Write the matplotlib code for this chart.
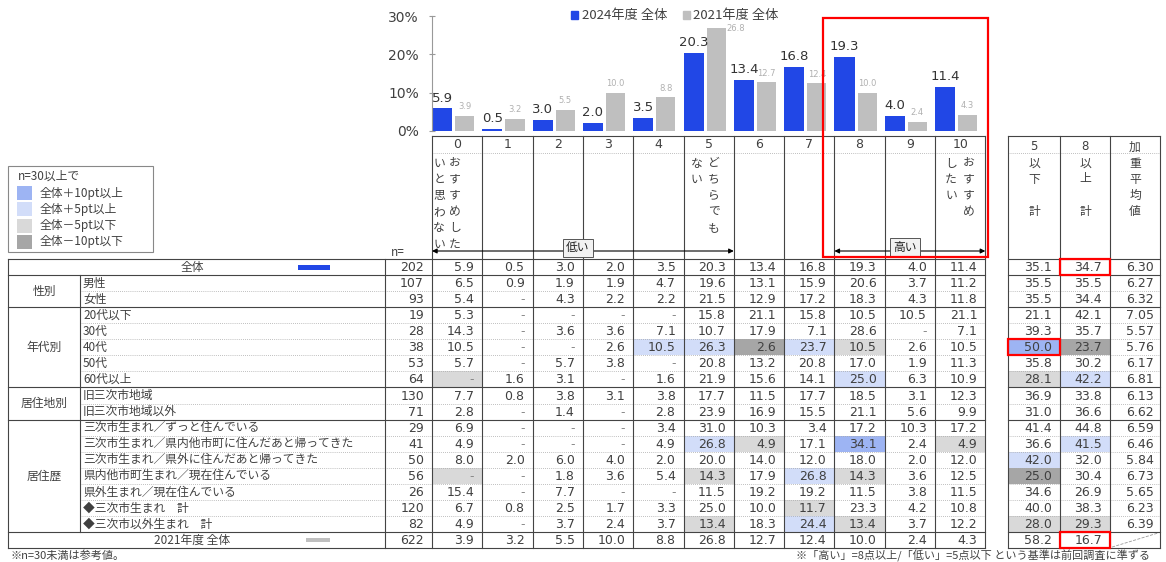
import matplotlib.pyplot as plt
import numpy as np
from matplotlib.patches import Rectangle, Patch

plt.rcParams['font.family'] = ['Noto Sans CJK JP', 'DejaVu Sans']

# 推奨度（0〜10点）
scores = ['0', '1', '2', '3', '4', '5', '6', '7', '8', '9', '10']
total_2024 = [5.9, 0.5, 3.0, 2.0, 3.5, 20.3, 13.4, 16.8, 19.3, 4.0, 11.4]
total_2021 = [3.9, 3.2, 5.5, 10.0, 8.8, 26.8, 12.7, 12.4, 10.0, 2.4, 4.3]

row_groups = ['', '性別', '性別', '年代別', '年代別', '年代別', '年代別', '年代別',
              '居住地別', '居住地別', '居住歴', '居住歴', '居住歴', '居住歴', '居住歴',
              '居住歴', '居住歴', '']
row_labels = ['全体', '男性', '女性', '20代以下', '30代', '40代', '50代', '60代以上',
              '旧三次市地域', '旧三次市地域以外',
              '三次市生まれ／ずっと住んでいる',
              '三次市生まれ／県内他市町に住んだあと帰ってきた',
              '三次市生まれ／県外に住んだあと帰ってきた',
              '県内他市町生まれ／現在住んでいる',
              '県外生まれ／現在住んでいる',
              '◆三次市生まれ　計', '◆三次市以外生まれ　計', '2021年度 全体']
row_n = [202, 107, 93, 19, 28, 38, 53, 64, 130, 71, 29, 41, 50, 56, 26, 120, 82, 622]
# 0 は「-」で表示
row_scores = [
    total_2024,
    [6.5, 0.9, 1.9, 1.9, 4.7, 19.6, 13.1, 15.9, 20.6, 3.7, 11.2],
    [5.4, 0, 4.3, 2.2, 2.2, 21.5, 12.9, 17.2, 18.3, 4.3, 11.8],
    [5.3, 0, 0, 0, 0, 15.8, 21.1, 15.8, 10.5, 10.5, 21.1],
    [14.3, 0, 3.6, 3.6, 7.1, 10.7, 17.9, 7.1, 28.6, 0, 7.1],
    [10.5, 0, 0, 2.6, 10.5, 26.3, 2.6, 23.7, 10.5, 2.6, 10.5],
    [5.7, 0, 5.7, 3.8, 0, 20.8, 13.2, 20.8, 17.0, 1.9, 11.3],
    [0, 1.6, 3.1, 0, 1.6, 21.9, 15.6, 14.1, 25.0, 6.3, 10.9],
    [7.7, 0.8, 3.8, 3.1, 3.8, 17.7, 11.5, 17.7, 18.5, 3.1, 12.3],
    [2.8, 0, 1.4, 0, 2.8, 23.9, 16.9, 15.5, 21.1, 5.6, 9.9],
    [6.9, 0, 0, 0, 3.4, 31.0, 10.3, 3.4, 17.2, 10.3, 17.2],
    [4.9, 0, 0, 0, 4.9, 26.8, 4.9, 17.1, 34.1, 2.4, 4.9],
    [8.0, 2.0, 6.0, 4.0, 2.0, 20.0, 14.0, 12.0, 18.0, 2.0, 12.0],
    [0, 0, 1.8, 3.6, 5.4, 14.3, 17.9, 26.8, 14.3, 3.6, 12.5],
    [15.4, 0, 7.7, 0, 0, 11.5, 19.2, 19.2, 11.5, 3.8, 11.5],
    [6.7, 0.8, 2.5, 1.7, 3.3, 25.0, 10.0, 11.7, 23.3, 4.2, 10.8],
    [4.9, 0, 3.7, 2.4, 3.7, 13.4, 18.3, 24.4, 13.4, 3.7, 12.2],
    total_2021,
]
low_sum = [35.1, 35.5, 35.5, 21.1, 39.3, 50.0, 35.8, 28.1, 36.9, 31.0,
           41.4, 36.6, 42.0, 25.0, 34.6, 40.0, 28.0, 58.2]
high_sum = [34.7, 35.5, 34.4, 42.1, 35.7, 23.7, 30.2, 42.2, 33.8, 36.6,
            44.8, 41.5, 32.0, 30.4, 26.9, 38.3, 29.3, 16.7]
weighted_mean = [6.30, 6.27, 6.32, 7.05, 5.57, 5.76, 6.17, 6.81, 6.13, 6.62,
                 6.59, 6.46, 5.84, 6.73, 5.65, 6.23, 6.39, None]

BLUE = '#2147E6'
GRAY = '#BFBFBF'
TXT = '#404040'
UP2, UP1, DN1, DN2 = '#9DB4F3', '#D2DDF9', '#D9D9D9', '#A6A6A6'
NUM = 'DejaVu Sans'

W, H = 1166, 562
COL0, COLW = 432, 50.3
ROW0, ROWH = 259, 16.06
RX = [1008, 1060, 1110, 1160]


def col_x(k):
    return COL0 + k * COLW


def row_y(i):
    return ROW0 + i * ROWH


def shade(value, base):
    d = round(value - base, 1)
    if d > 10:
        return UP2
    if d >= 5:
        return UP1
    if d < -10:
        return DN2
    if d <= -5:
        return DN1
    return None


fig = plt.figure(figsize=(W / 100, H / 100), dpi=100)

# 棒グラフ
ax = fig.add_axes([COL0 / W, 1 - 131 / H, 11 * COLW / W, 115 / H])
x = np.arange(len(scores))
ax.bar(x - 0.30, total_2024, width=0.40, color=BLUE)
ax.bar(x + 0.15, total_2021, width=0.38, color=GRAY)
for xi, v in zip(x, total_2024):
    ax.text(xi - 0.30, v + 1.0, f'{v:.1f}', ha='center', va='bottom',
            fontsize=9.5, color='#333333', family=NUM)
for xi, v in zip(x, total_2021):
    if v > 25:
        ax.text(xi + 0.36, v, f'{v:.1f}', ha='left', va='center',
                fontsize=6, color='#B0B0B0', family=NUM)
    else:
        ax.text(xi + 0.15, v + 1.2, f'{v:.1f}', ha='center', va='bottom',
                fontsize=6, color='#B0B0B0', family=NUM)
ax.set_xlim(-0.5, 10.5)
ax.set_ylim(0, 30)
ax.set_xticks([])
ax.set_yticks([0, 10, 20, 30], ['0%', '10%', '20%', '30%'], family=NUM)
ax.tick_params(axis='y', direction='inout', length=5, color='#999999',
               labelsize=10, labelcolor=TXT, pad=7)
for side in ['top', 'right', 'bottom']:
    ax.spines[side].set_visible(False)
ax.spines['left'].set_color('#999999')
ax.patch.set_alpha(0)

fig.legend(handles=[Patch(color=BLUE, label='2024年度 全体'),
                    Patch(color=GRAY, label='2021年度 全体')],
           loc='center', bbox_to_anchor=(675 / W, 1 - 16 / H), ncol=2,
           frameon=False, fontsize=9.5, handlelength=0.5, handleheight=0.5,
           handletextpad=0.3, columnspacing=1.2, labelcolor=TXT)

# 表
tab = fig.add_axes([0, 0, 1, 1])
tab.set_xlim(0, W)
tab.set_ylim(H, 0)
tab.axis('off')

LINE = dict(color='#444444', lw=0.8)
DOT = dict(color='#AAAAAA', lw=0.6, ls=(0, (1, 1.5)))
bottom = row_y(len(row_labels))

# 見出し
tab.plot([COL0, col_x(11)], [136, 136], **LINE)
tab.plot([COL0, col_x(11)], [153, 153], **DOT)
for k, s in enumerate(scores):
    tab.text(col_x(k) + COLW / 2, 145, s, ha='center', va='center',
             fontsize=9, color=TXT, family=NUM)


def vertical(text, xc, y0, step=16.2):
    for j, ch in enumerate(text):
        tab.text(xc, y0 + j * step, ch, ha='center', va='center',
                 fontsize=8.5, color=TXT)


vertical('おすすめした', col_x(0) + 23, 163)
vertical('いと思わない', col_x(0) + 7, 163)
vertical('どちらでも', col_x(5) + 30, 163)
vertical('ない', col_x(5) + 13, 163)
vertical('おすすめ', col_x(10) + 34, 163)
vertical('したい', col_x(10) + 16, 163)

tab.text(398, 252, 'n=', ha='center', va='center', fontsize=8.5, color=TXT)

arrow = dict(arrowstyle='<|-|>', lw=0.8, color='black', mutation_scale=7,
             shrinkA=0, shrinkB=0)
tab.annotate('', xy=(col_x(0), 251), xytext=(col_x(6), 251), arrowprops=arrow)
tab.annotate('', xy=(col_x(8), 251), xytext=(col_x(11), 251), arrowprops=arrow)
box = dict(boxstyle='square,pad=0.25', fc='#F2F2F2', ec='#555555', lw=0.7)
tab.text(578, 248, '低い', ha='center', va='center', fontsize=8.5,
         color='#222222', bbox=box)
tab.text(905, 247, '高い', ha='center', va='center', fontsize=8.5,
         color='#222222', bbox=box)

# 右側の集計欄の見出し
tab.plot([RX[0], RX[-1]], [136, 136], **LINE)
tab.plot([RX[0], RX[-1]], [153, 153], **DOT)
for xr, chars in zip([1034, 1085, 1135], [['5', '以', '下', '', '計'],
                                          ['8', '以', '上', '', '計'],
                                          ['加', '重', '平', '均', '値']]):
    for j, ch in enumerate(chars):
        tab.text(xr, 147 + j * 16, ch, ha='center', va='center',
                 fontsize=8.5, color=TXT, family=NUM if ch.isdigit() else None)

# 罫線
solid_rows = [0, 1, 3, 8, 10, 17, 18]
for i in range(len(row_labels) + 1):
    y = row_y(i)
    if i in solid_rows:
        tab.plot([8, col_x(11)], [y, y], **LINE)
        tab.plot([RX[0], RX[-1]], [y, y], **LINE)
    else:
        tab.plot([80, col_x(11)], [y, y], **DOT)
        tab.plot([RX[0], RX[-1]], [y, y], **DOT)
for xv in [8, 385]:
    tab.plot([xv, xv], [row_y(0), bottom], **LINE)
tab.plot([80, 80], [row_y(1), row_y(17)], **LINE)
for k in range(12):
    tab.plot([col_x(k), col_x(k)], [136, bottom], **LINE)
for xv in RX:
    tab.plot([xv, xv], [136, bottom], **LINE)
tab.plot([RX[2] + 2, RX[3] - 2], [bottom - 1, row_y(17) + 1],
         color='#999999', lw=0.6, ls='--')

# 行見出し
groups = {}
for i, g in enumerate(row_groups):
    if g:
        groups.setdefault(g, []).append(i)
for g, idx in groups.items():
    yc = (row_y(idx[0]) + row_y(idx[-1] + 1)) / 2
    tab.text(44, yc, g, ha='center', va='center', fontsize=8.5, color=TXT)

for i, lab in enumerate(row_labels):
    yc = row_y(i) + ROWH / 2
    if row_groups[i]:
        tab.text(83, yc, lab, ha='left', va='center', fontsize=8.5, color=TXT)
    else:
        tab.text(192, yc, lab, ha='center', va='center', fontsize=8.5, color=TXT)
tab.add_patch(Rectangle((298, row_y(0) + 5.5), 32, 5, color=BLUE, lw=0))
tab.add_patch(Rectangle((306, row_y(17) + 6), 24, 4, color=GRAY, lw=0))

# 数値セル
base = row_scores[0]
for i in range(len(row_labels)):
    yc = row_y(i) + ROWH / 2 + 0.5
    check = 0 < i < len(row_labels) - 1 and row_n[i] >= 30
    tab.text(424, yc, str(row_n[i]), ha='right', va='center',
             fontsize=9, color=TXT, family=NUM)
    for k, v in enumerate(row_scores[i]):
        fc = shade(v, base[k]) if check else None
        if fc:
            tab.add_patch(Rectangle((col_x(k), row_y(i)), COLW, ROWH,
                                    color=fc, lw=0, zorder=0))
        tab.text(col_x(k + 1) - 8, yc, f'{v:.1f}' if v else '-',
                 ha='right', va='center', fontsize=9,
                 color=TXT if v else '#888888', family=NUM)
    for c, (vals, ref) in enumerate([(low_sum, low_sum[0]),
                                     (high_sum, high_sum[0])]):
        fc = shade(vals[i], ref) if check else None
        if fc:
            tab.add_patch(Rectangle((RX[c], row_y(i)), RX[c + 1] - RX[c], ROWH,
                                    color=fc, lw=0, zorder=0))
        tab.text(RX[c + 1] - 8, yc, f'{vals[i]:.1f}', ha='right', va='center',
                 fontsize=9, color=TXT, family=NUM)
    if weighted_mean[i] is not None:
        tab.text(RX[3] - 6, yc, f'{weighted_mean[i]:.2f}', ha='right',
                 va='center', fontsize=9, color=TXT, family=NUM)

# 色分けの凡例
tab.add_patch(Rectangle((8, 166), 145, 86, fill=False, ec='#888888', lw=0.8))
tab.text(18, 176, 'n=30以上で', ha='left', va='center', fontsize=8.5, color=TXT)
for j, (fc, lab) in enumerate([(UP2, '全体＋10pt以上'), (UP1, '全体＋5pt以上'),
                               (DN1, '全体－5pt以下'), (DN2, '全体－10pt以下')]):
    yc = 193 + j * 16.3
    tab.add_patch(Rectangle((17, yc - 7), 15, 14, color=fc, lw=0))
    tab.text(40, yc, lab, ha='left', va='center', fontsize=8.5, color=TXT)

# 強調枠
red = dict(fill=False, ec='#FF0000', lw=1.6, zorder=10)
tab.add_patch(Rectangle((col_x(8) - 11, 18), col_x(11) - col_x(8) + 14, 239, **red))
tab.add_patch(Rectangle((RX[1], row_y(0)), RX[2] - RX[1], ROWH, **red))
tab.add_patch(Rectangle((RX[0], row_y(5)), RX[1] - RX[0], ROWH, **red))
tab.add_patch(Rectangle((RX[1], row_y(17)), RX[2] - RX[1], ROWH, **red))

# 注記
tab.text(10, 556, '※n=30未満は参考値。', ha='left', va='center',
         fontsize=8, color=TXT)
tab.text(1150, 556, '※「高い」=8点以上/「低い」=5点以下 という基準は前回調査に準ずる',
         ha='right', va='center', fontsize=8, color=TXT)

fig.savefig('out.png', dpi=100)
